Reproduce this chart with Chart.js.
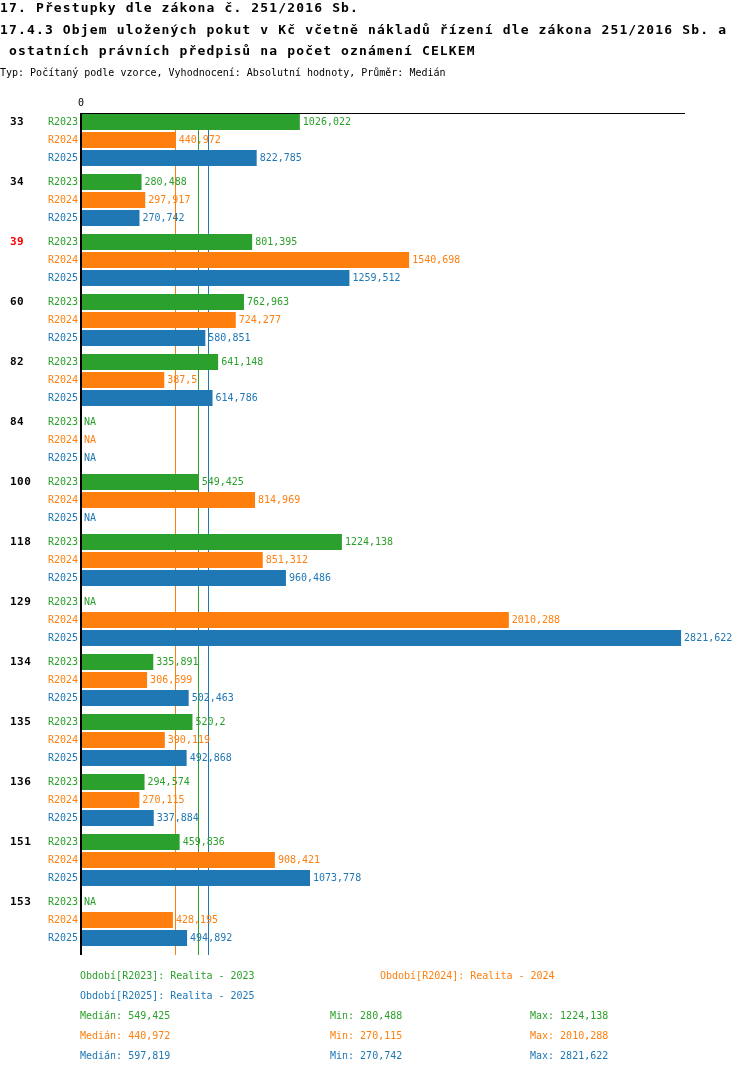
<!DOCTYPE html>
<html>
<head>
<meta charset="utf-8">
<script src="https://cdn.jsdelivr.net/npm/chart.js@4.4.0/dist/chart.umd.min.js"></script>
<style>
  html, body { margin: 0; padding: 0; background: #fff; }
  #wrap { width: 750px; height: 1074px; position: relative; }
</style>
</head>
<body>
<div id="wrap"><canvas id="chart" width="750" height="1074"></canvas></div>
<script>
// data
const categories = ['33', '34', '39', '60', '82', '84', '100', '118', '129', '134', '135', '136', '151', '153'];
const highlighted = ['39'];
const seriesCodes = ['R2023', 'R2024', 'R2025'];
const seriesNames = ['Realita - 2023', 'Realita - 2024', 'Realita - 2025'];
const r2023 = [1026.022, 280.488, 801.395, 762.963, 641.148, null, 549.425, 1224.138, null, 335.891, 520.2, 294.574, 459.836, null];
const r2024 = [440.972, 297.917, 1540.698, 724.277, 387.5, null, 814.969, 851.312, 2010.288, 306.699, 390.119, 270.115, 908.421, 428.195];
const r2025 = [822.785, 270.742, 1259.512, 580.851, 614.786, null, null, 960.486, 2821.622, 502.463, 492.868, 337.884, 1073.778, 494.892];
const xTicks = [0];

const titleLines = [
  '17. Přestupky dle zákona č. 251/2016 Sb.',
  '17.4.3 Objem uložených pokut v Kč včetně nákladů řízení dle zákona 251/2016 Sb. a',
  ' ostatních právních předpisů na počet oznámení CELKEM'
];
const subTitle = 'Typ: Počítaný podle vzorce, Vyhodnocení: Absolutní hodnoty, Průměr: Medián';

const colors = ['#2ca02c', '#ff7f0e', '#1f77b4'];
const MONO = '"DejaVu Sans Mono", monospace';
const series = [r2023, r2024, r2025];

function fmt(v) {
  const r = Math.round(v * 1000 + 1e-6) / 1000;
  return String(r).replace('.', ',');
}

function median(arr) {
  const s = arr.filter(v => v != null).sort((a, b) => a - b);
  const m = Math.floor(s.length / 2);
  return s.length % 2 ? s[m] : (s[m - 1] + s[m]) / 2;
}

const stats = series.map(arr => {
  const vals = arr.filter(v => v != null);
  return { med: median(arr), min: Math.min(...vals), max: Math.max(...vals) };
});

const ctx = document.getElementById('chart').getContext('2d');

function text(c, str, x, y, font, color, align, spacing) {
  c.font = font;
  c.fillStyle = color;
  c.textAlign = align || 'left';
  c.textBaseline = 'middle';
  c.letterSpacing = spacing || '0px';
  c.fillText(str, x, y);
  c.letterSpacing = '0px';
}

// median lines under the bars
const medianLines = {
  id: 'medianLines',
  beforeDatasetsDraw(chart) {
    const c = chart.ctx, xs = chart.scales.x;
    c.save();
    stats.forEach((s, i) => {
      const px = Math.round(xs.getPixelForValue(s.med)) - 0.5;
      c.strokeStyle = colors[i];
      c.lineWidth = 1;
      c.beginPath();
      c.moveTo(px, 114);
      c.lineTo(px, 955);
      c.stroke();
    });
    c.restore();
  }
};

// axes, labels, titles and footer
const decorations = {
  id: 'decorations',
  afterDatasetsDraw(chart) {
    const c = chart.ctx, xs = chart.scales.x, ys = chart.scales.y;
    const area = chart.chartArea;
    c.save();

    // axes
    c.fillStyle = '#000';
    c.fillRect(80, 114, 2, 841);
    c.fillRect(80, 113, area.right - 80, 1);
    xTicks.forEach(t => text(c, String(t), xs.getPixelForValue(t) - 1, 103, '10px ' + MONO, '#000', 'center'));

    // rows
    series.forEach((arr, i) => {
      const meta = chart.getDatasetMeta(i);
      meta.data.forEach((bar, j) => {
        const y = bar.y;
        text(c, seriesCodes[i], 78, y, '10px ' + MONO, colors[i], 'right');
        if (arr[j] == null) {
          text(c, 'NA', 84, y, '10px ' + MONO, colors[i], 'left');
        } else {
          text(c, fmt(arr[j]), bar.x + 3, y, '10px ' + MONO, colors[i], 'left');
        }
        if (i === 0) {
          const cat = categories[j];
          text(c, cat, 10, y, 'bold 11px ' + MONO, highlighted.includes(cat) ? '#ff0000' : '#000', 'left', '0.5px');
        }
      });
    });

    // titles
    titleLines.forEach((t, k) => text(c, t, 0, 9 + k * 21.5, 'bold 13px ' + MONO, '#000', 'left', '1.15px'));
    text(c, subTitle, 0, 73, '10px ' + MONO, '#000', 'left');

    // footer legend and stats
    const f = '10px ' + MONO;
    text(c, 'Období[' + seriesCodes[0] + ']: ' + seriesNames[0], 80, 976, f, colors[0]);
    text(c, 'Období[' + seriesCodes[1] + ']: ' + seriesNames[1], 380, 976, f, colors[1]);
    text(c, 'Období[' + seriesCodes[2] + ']: ' + seriesNames[2], 80, 996, f, colors[2]);
    stats.forEach((s, i) => {
      const y = 1016 + i * 20;
      text(c, 'Medián: ' + fmt(s.med), 80, y, f, colors[i]);
      text(c, 'Min: ' + fmt(s.min), 330, y, f, colors[i]);
      text(c, 'Max: ' + fmt(s.max), 530, y, f, colors[i]);
    });

    c.restore();
  }
};

const chart = new Chart(ctx, {
  type: 'bar',
  data: {
    labels: categories,
    datasets: series.map((arr, i) => ({
      label: seriesCodes[i],
      data: arr,
      backgroundColor: colors[i],
      borderWidth: 0,
      categoryPercentage: 0.9,
      barPercentage: 16 / 18
    }))
  },
  options: {
    indexAxis: 'y',
    responsive: false,
    animation: false,
    devicePixelRatio: 1,
    layout: { padding: { left: 82, right: 65, top: 110, bottom: 124 } },
    scales: {
      x: { display: false, min: 0, max: 2840 },
      y: { display: false }
    },
    plugins: {
      legend: { display: false },
      tooltip: { enabled: false },
      title: { display: false }
    }
  },
  plugins: [medianLines, decorations]
});
</script>
</body>
</html>
